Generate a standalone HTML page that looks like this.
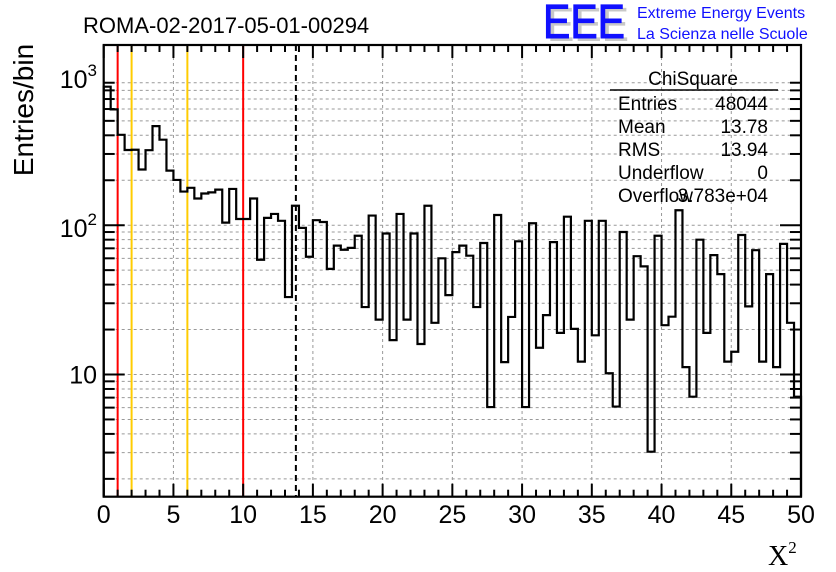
<!DOCTYPE html>
<html><head><meta charset="utf-8">
<style>
html,body{margin:0;padding:0;background:#fff;}
svg{display:block;font-family:"Liberation Sans",sans-serif;}
</style></head>
<body>
<svg id="chart" width="836" height="572" viewBox="0 0 836 572">
  <g id="grid"></g>
  <g id="lines"></g>
  <g id="hist"></g>
  <g id="axes"></g>
  <text x="83" y="33" font-size="22">ROMA-02-2017-05-01-00294</text>
  <g>
    <text x="547" y="41" font-size="48" fill="#c8c8c8" textLength="82" lengthAdjust="spacingAndGlyphs">EEE</text>
    <text x="543" y="38" font-size="48" fill="#1010ff" stroke="#1010ff" stroke-width="1" textLength="82" lengthAdjust="spacingAndGlyphs">EEE</text>
    <text x="637" y="18" font-size="16" fill="#1010ff">Extreme Energy Events</text>
    <text x="637" y="39" font-size="16" fill="#1010ff">La Scienza nelle Scuole</text>
  </g>
  <text transform="translate(33,110) rotate(-90)" text-anchor="middle" font-size="28">Entries/bin</text>
  <text x="768" y="565" font-size="28" font-family="Liberation Serif, serif">X<tspan font-size="17" dy="-12">2</tspan></text>
  <g font-size="19">
    <text x="693" y="85" text-anchor="middle">ChiSquare</text>
    <line x1="610" y1="90" x2="778" y2="90" stroke="#000" stroke-width="1.5"/>
    <text x="618" y="110">Entries</text>
    <text x="768" y="110" text-anchor="end">48044</text>
    <text x="618" y="133">Mean</text>
    <text x="768" y="133" text-anchor="end">13.78</text>
    <text x="618" y="156">RMS</text>
    <text x="768" y="156" text-anchor="end">13.94</text>
    <text x="618" y="179">Underflow</text>
    <text x="768" y="179" text-anchor="end">0</text>
    <text x="618" y="202">Overflow</text>
    <text x="768" y="202" text-anchor="end">3.783e+04</text>
  </g>
</svg>
<script>
const binLow = 0, binWidth = 0.5;
const counts = [847,597,403,319,320,236,318,461,374,232,
  201,168,178,151,163,166,173,104,175,110,
  110,151,58.7,112,119,107,33,135,96,61.5,
  108,105,51,73,68.5,70.5,85,28.3,116,23.3,
  88,17,119,23.3,88,16,135,22.2,60,34,
  66,73,62.5,28.3,76,6.05,117,12.1,24.3,78,
  6.05,103,15.1,25,77,19,114,20.2,12.2,107,
  18.3,107,10.2,6.1,90,23.3,62,53,3.04,85,
  21.4,24.4,126,11.2,7.1,80,19,63,47,12.2,
  14.2,86,28.6,68,12.2,47,11.2,75,22.2,7.1];
const xTickLabels = [0,5,10,15,20,25,30,35,40,45,50];
const yDecades = [10,100,1000];
const cutLinesRed = [1,10];
const cutLinesOrange = [2,6];
const meanValue = 13.78;

const X0=103.7, X1=801, Y0=45, Y1=496.7;
const xMin=0,xMax=50;
function xs(v){return X0+(v-xMin)/(xMax-xMin)*(X1-X0);}
function ys(v){return 374.5-149.3*(Math.log10(v)-1);}
const NS="http://www.w3.org/2000/svg";
function mk(tag,attrs,parent){const e=document.createElementNS(NS,tag);for(const k in attrs)e.setAttribute(k,attrs[k]);parent.appendChild(e);return e;}
const grid=document.getElementById('grid'),axes=document.getElementById('axes'),hist=document.getElementById('hist'),lines=document.getElementById('lines');

xTickLabels.forEach(v=>{if(v>xMin&&v<xMax){const l=mk('line',{x1:xs(v),x2:xs(v),y1:Y0,y2:Y1,stroke:'#999','stroke-dasharray':'3,3','stroke-width':1},grid);

}});
yDecades.forEach(d=>{for(let m=1;m<10;m++){const v=d/10*m; if(v<1.52||v>1585)continue; const y=ys(v);
 const g=mk('line',{x1:X0,x2:X1,y1:y,y2:y,stroke:'#999','stroke-dasharray':'3,3','stroke-width':1},grid);
 
 
 const len=(m===1)?21:11;
 mk('line',{x1:X0,x2:X0+len,y1:y,y2:y,stroke:'#000','stroke-width':2},axes);
 mk('line',{x1:X1,x2:X1-len,y1:y,y2:y,stroke:'#000','stroke-width':2},axes);
}});
yDecades.forEach(d=>{const y=ys(d);
 let t;
 if(d===10){t=mk('text',{x:97,y:y+9,'font-size':25,'text-anchor':'end'},axes);t.textContent='10';}
 else{t=mk('text',{x:97,y:y+12,'font-size':25,'text-anchor':'end'},axes);
  const exp=Math.round(Math.log10(d));
  t.innerHTML='10<tspan font-size="17" dy="-12">'+exp+'</tspan>';}
 
 
});
for(let v=xMin;v<=xMax;v++){const x=xs(v);const len=(v%5===0)?13:7;
 mk('line',{x1:x,x2:x,y1:Y1,y2:Y1-len,stroke:'#000','stroke-width':2},axes);
 mk('line',{x1:x,x2:x,y1:Y0,y2:Y0+len,stroke:'#000','stroke-width':2},axes);}
xTickLabels.forEach(v=>{const t=mk('text',{x:xs(v),y:523,'font-size':25,'text-anchor':'middle'},axes);t.textContent=String(v);
 
 });
const fr=mk('rect',{x:X0,y:Y0,width:X1-X0,height:Y1-Y0,fill:'none',stroke:'#000','stroke-width':2.2},axes);



cutLinesRed.forEach(v=>{const l=mk('line',{x1:xs(v),x2:xs(v),y1:Y0,y2:Y1,stroke:'#ff0000','stroke-width':2},lines);
 
 });
cutLinesOrange.forEach(v=>{const l=mk('line',{x1:xs(v),x2:xs(v),y1:Y0,y2:Y1,stroke:'#ffcc00','stroke-width':2},lines);
 
 });
const ml=mk('line',{x1:xs(meanValue),x2:xs(meanValue),y1:Y0,y2:Y1,stroke:'#000','stroke-width':2,'stroke-dasharray':'6,4'},lines);



let d='M'+xs(binLow)+','+Y1;
counts.forEach((c,i)=>{const xa=xs(binLow+i*binWidth),xb=xs(binLow+(i+1)*binWidth);const y=Math.min(Y1,Math.max(Y0,ys(c)));
 d+=' L'+xa+','+y+' L'+xb+','+y;});
d+=' L'+xs(binLow+counts.length*binWidth)+','+Y1;
const hp=mk('path',{d:d,fill:'none',stroke:'#000','stroke-width':2.2},hist);


</script>
</body></html>
